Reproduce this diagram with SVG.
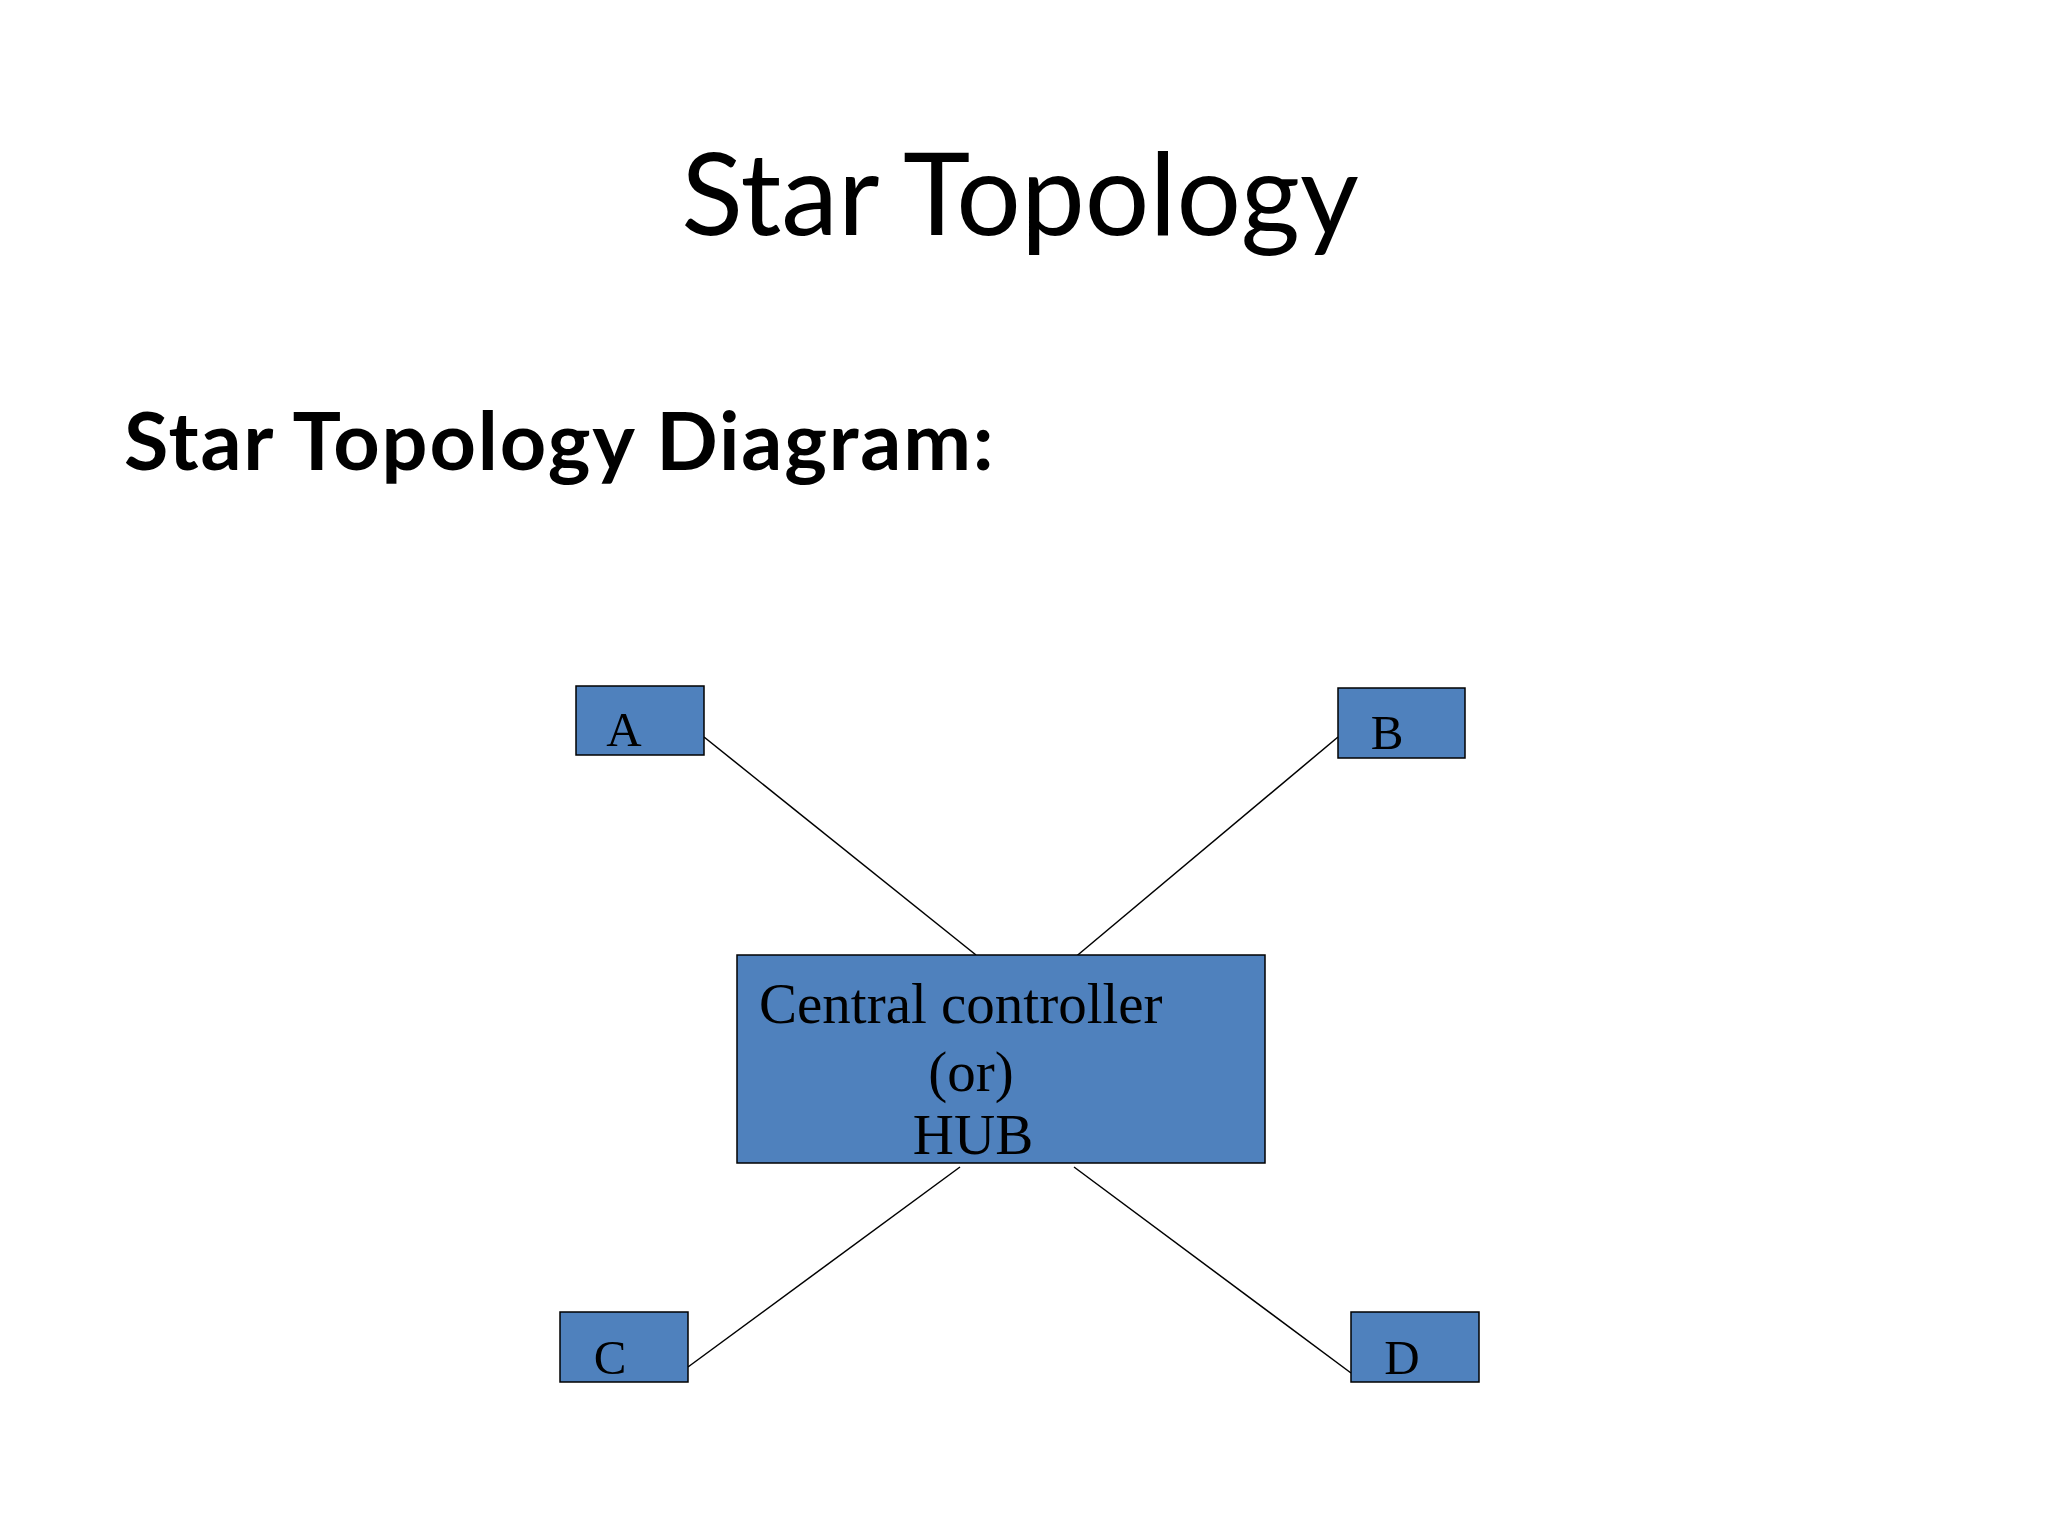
<svg xmlns="http://www.w3.org/2000/svg" width="2048" height="1536" viewBox="0 0 2048 1536">
<style>
.node{fill:#4F81BD;stroke:#000;stroke-width:1.5}
.lbl{font-family:"Liberation Serif","Times New Roman",serif;fill:#000}
.con line{stroke:#000;stroke-width:1.5}
</style>
<rect width="2048" height="1536" fill="#fff"/>
<text x="1020" y="235" text-anchor="middle" font-family="Lato,'Noto Sans',sans-serif" font-size="114" fill="#000">Star Topology</text>
<text x="124" y="470" font-family="Lato,'Noto Sans',sans-serif" font-weight="bold" font-size="81" letter-spacing="1.8" fill="#000">Star Topology Diagram:</text>
<g id="connectors" class="con">
<line x1="704" y1="737" x2="976" y2="955"/>
<line x1="1338" y1="737" x2="1073" y2="959"/>
<line x1="960" y1="1167" x2="688" y2="1367"/>
<line x1="1074" y1="1167" x2="1351" y2="1373"/>
</g>
<g id="node-A"><rect class="node" x="576" y="686" width="128" height="69"/><text class="lbl" x="624" y="746" text-anchor="middle" font-size="49">A</text></g>
<g id="node-B"><rect class="node" x="1338" y="688" width="127" height="70"/><text class="lbl" x="1387" y="749" text-anchor="middle" font-size="49">B</text></g>
<g id="node-C"><rect class="node" x="560" y="1312" width="128" height="70"/><text class="lbl" x="610" y="1374" text-anchor="middle" font-size="49">C</text></g>
<g id="node-D"><rect class="node" x="1351" y="1312" width="128" height="70"/><text class="lbl" x="1402" y="1374" text-anchor="middle" font-size="49">D</text></g>
<g id="node-hub"><rect class="node" x="737" y="955" width="528" height="208"/>
<text class="lbl" font-size="57"><tspan x="759" y="1023">Central controller</tspan><tspan x="971" y="1091" text-anchor="middle">(or)</tspan><tspan x="973" y="1154" text-anchor="middle">HUB</tspan></text></g>
</svg>
